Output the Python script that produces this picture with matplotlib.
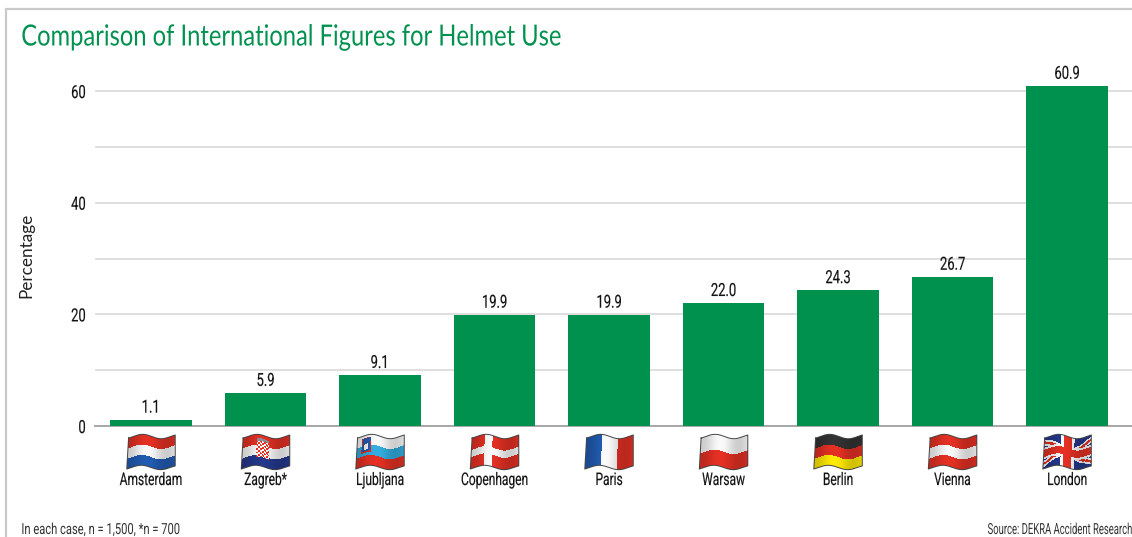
import numpy as np
import matplotlib
matplotlib.use("Agg")
import matplotlib.pyplot as plt
from matplotlib.patheffects import AbstractPathEffect
from matplotlib.transforms import Affine2D

cities = ["Amsterdam", "Zagreb*", "Ljubljana", "Copenhagen", "Paris", "Warsaw", "Berlin", "Vienna", "London"]
values = [1.1, 5.9, 9.1, 19.9, 19.9, 22.0, 24.3, 26.7, 60.9]
flags = ["nl", "hr", "si", "dk", "fr", "pl", "de", "at", "uk"]
yticks = [0, 20, 40, 60]
minor_grid = [10, 30, 50]

W, H = 1132, 537
GREEN = "#00914F"
BODY = "Roboto"


class Condense(AbstractPathEffect):
    """Squeezes a text horizontally about its left, centre or right edge."""

    def __init__(self, sx, anchor="center", weight=0.0):
        super().__init__()
        self.sx, self.anchor, self.weight = sx, anchor, weight

    def draw_path(self, renderer, gc, tpath, affine, rgbFace=None):
        ext = tpath.transformed(affine).get_extents()
        ax_ = {"left": ext.x0, "center": (ext.x0 + ext.x1) / 2, "right": ext.x1}[self.anchor]
        t = affine + Affine2D().translate(-ax_, 0).scale(self.sx, 1).translate(ax_, 0)
        gc0 = renderer.new_gc()
        gc0.copy_properties(gc)
        if self.weight and rgbFace is not None:
            gc0.set_linewidth(self.weight)
            gc0.set_foreground(rgbFace[:3])
        renderer.draw_path(gc0, tpath, t, rgbFace)
        gc0.restore()


fig = plt.figure(figsize=(W / 100, H / 100), dpi=100, facecolor="white")


def px_axes(l, t, r, b):
    return fig.add_axes([l / W, 1 - b / H, (r - l) / W, (b - t) / H])


ax = px_axes(95, 80, 1132, 426)
ax.set_xlim(-0.489, 8.567)
ax.set_ylim(0, 346 / 5.583)
ax.patch.set_alpha(0)
for s in ("top", "right", "left"):
    ax.spines[s].set_visible(False)
ax.spines["bottom"].set_color("#a8a8a8")
ax.spines["bottom"].set_linewidth(1.4)
ax.set_axisbelow(True)
ax.set_yticks(yticks)
ax.set_yticks(minor_grid, minor=True)
ax.yaxis.grid(True, which="both", color="#d6d6d6", lw=1.1)
ax.tick_params(axis="y", which="both", length=0, pad=6.5, labelsize=13)
for t in ax.get_yticklabels():
    t.set_fontfamily(BODY)
    t.set_color("#111111")
    t.set_path_effects([Condense(0.72, "right", 0.12)])
ax.set_xticks([])

x = np.arange(len(cities))
ax.bar(x, values, width=0.713, color=GREEN, linewidth=0, zorder=3)
for xi, v in zip(x, values):
    ax.annotate(f"{v:.1f}", (xi, v), xytext=(0, 2.3), textcoords="offset points",
                ha="center", va="bottom", fontsize=13, family=BODY, color="#111111",
                annotation_clip=False, path_effects=[Condense(0.72, "center", 0.12)])

over = fig.add_axes([0, 0, 1, 1], zorder=5)
over.set_xlim(0, W)
over.set_ylim(H, 0)
over.axis("off")
over.patch.set_alpha(0)

# frame
over.plot([5.5, 5.5, W], [H, 8.5, 8.5], color="#c9c9c9", lw=1.6, solid_joinstyle="miter")

over.text(21, 37.5, "Comparison of International Figures for Helmet Use", color=GREEN,
          family="Lato", fontsize=21, va="center", ha="left",
          path_effects=[Condense(0.814, "left")])
over.text(26, 255.5, "Percentage", rotation=90, family="Lato", fontsize=12.3,
          va="center", ha="center", color="#222222")
over.text(21, 530, "In each case, n = 1,500, *n = 700", family=BODY, fontsize=11,
          va="center", ha="left", color="#333333", path_effects=[Condense(0.73, "left")])
over.text(1132, 530, "Source: DEKRA Accident Research", family=BODY, fontsize=11,
          va="center", ha="right", color="#333333", path_effects=[Condense(0.62, "right")])

RED = np.array([0.90, 0.19, 0.14])
WHT = np.array([0.98, 0.98, 0.98])
BLU = np.array([0.13, 0.36, 0.70])
NAVY = np.array([0.14, 0.22, 0.55])
SKY = np.array([0.20, 0.68, 0.88])
BLK = np.array([0.20, 0.20, 0.20])
YEL = np.array([1.0, 0.92, 0.0])


def stripes(v, cols):
    n = len(cols)
    idx = np.clip((v * n).astype(int), 0, n - 1)
    return np.array(cols)[idx]


def flag_color(kind, u, v):
    if kind == "nl":
        return stripes(v, [RED, WHT, BLU])
    if kind == "hr":
        c = stripes(v, [RED, WHT, NAVY])
        m = (abs(u - 0.43) < 0.13) & (v > 0.2) & (v < 0.72)
        chk = (((u * 24).astype(int) + (v * 16).astype(int)) % 2 == 0)
        c[m & chk] = RED
        c[m & ~chk] = WHT
        c[(abs(u - 0.43) < 0.13) & (v > 0.12) & (v <= 0.2)] = np.array([0.55, 0.55, 0.6])
        return c
    if kind == "si":
        c = stripes(v, [WHT, SKY, RED])
        m = (abs(u - 0.2) < 0.1) & (v > 0.08) & (v < 0.56)
        c[m] = RED
        c[(abs(u - 0.2) < 0.08) & (v > 0.1) & (v < 0.52)] = BLU
        c[(abs(u - 0.2) < 0.045) & (v > 0.28) & (v < 0.46)] = WHT
        return c
    if kind == "dk":
        c = np.broadcast_to(RED, u.shape + (3,)).copy()
        c[(abs(v - 0.5) < 0.115) | (abs(u - 0.36) < 0.085)] = WHT
        return c
    if kind == "fr":
        return stripes(u, [BLU, WHT, RED])
    if kind == "pl":
        return stripes(v, [WHT, RED])
    if kind == "de":
        return stripes(v, [BLK, RED, YEL])
    if kind == "at":
        return stripes(v, [RED, WHT, RED])
    if kind == "uk":
        c = np.broadcast_to(NAVY, u.shape + (3,)).copy()
        d1 = abs((v - 0.5) - (u - 0.5) * 0.7)
        d2 = abs((v - 0.5) + (u - 0.5) * 0.7)
        c[(d1 < 0.10) | (d2 < 0.10)] = WHT
        c[(d1 < 0.04) | (d2 < 0.04)] = RED
        c[(abs(v - 0.5) < 0.19) | (abs(u - 0.5) < 0.14)] = WHT
        c[(abs(v - 0.5) < 0.12) | (abs(u - 0.5) < 0.085)] = RED
        return c
    raise ValueError(kind)


def draw_flag(ax_, cx, kind, w=48.5, h=31.0, top=436.5):
    nu, nv = 120, 60
    ue = np.linspace(0, 1, nu + 1)
    ve = np.linspace(0, 1, nv + 1)
    U, V = np.meshgrid(ue, ve)
    wave = 2.2 * np.sin(2 * np.pi * 1.25 * U - 0.785)
    X = cx - w / 2 + U * w + 1.8 * (1 - V) * (1 - U)
    Y = top + V * h - wave
    uc = (ue[:-1] + ue[1:]) / 2
    vc = (ve[:-1] + ve[1:]) / 2
    UC, VC = np.meshgrid(uc, vc)
    col = flag_color(kind, UC, VC).astype(float)
    shade = 0.91 + 0.09 * np.cos(2 * np.pi * 1.25 * (UC - 0.42))
    col = np.clip(col * shade[..., None], 0, 1)
    ax_.pcolormesh(X, Y, col, shading="flat", edgecolors="none", linewidth=0)
    ex = np.r_[X[0, :], X[:, -1], X[-1, ::-1], X[::-1, 0]]
    ey = np.r_[Y[0, :], Y[:, -1], Y[-1, ::-1], Y[::-1, 0]]
    ax_.plot(ex, ey, color="#444444", lw=0.7)


for xi, city, kind in zip(x, cities, flags):
    cx = ax.transData.transform((xi, 0))[0]
    draw_flag(over, cx, kind)
    over.text(cx, 480.5, city, family=BODY, fontsize=12.5, ha="center", va="center",
              color="#111111", path_effects=[Condense(0.69, "center", 0.12)])
over.set_xlim(0, W)
over.set_ylim(H, 0)

fig.savefig("out.png", dpi=100, facecolor="white")
